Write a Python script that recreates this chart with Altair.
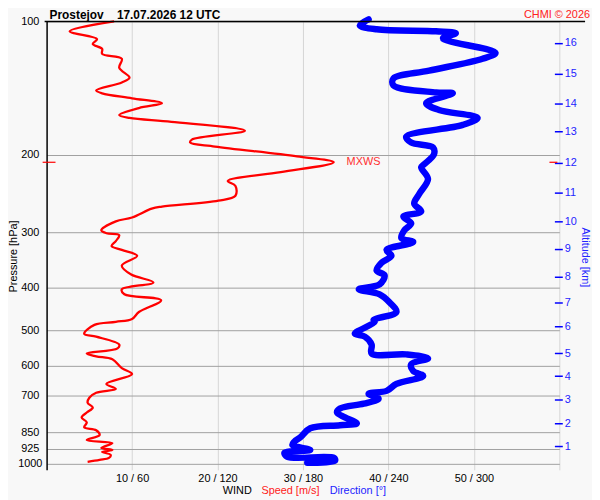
import altair as alt
import pandas as pd

# ---------------- data ----------------
# wind speed profile (pressure hPa, speed m/s)
red_p = [100.0, 105.3, 109.7, 112.5, 115.4, 118.4, 121.5, 127.3, 134.0, 137.4,
         143.2, 145.4, 149.2, 153.1, 157.0, 162.8, 165.3, 168.7, 176.7, 185.0,
         187.9, 191.8, 201.9, 208.2, 219.2, 229.5, 235.5, 247.9, 254.3, 262.2,
         265.0, 277.5, 283.2, 296.6, 301.2, 304.3, 313.8, 322.0, 328.6, 338.9,
         356.7, 373.6, 389.2, 403.4, 413.9, 426.9, 454.0, 470.5, 477.9, 485.3,
         508.2, 516.1, 537.7, 548.8, 563.1, 571.8, 580.7, 608.1, 627.1, 660.1,
         677.2, 691.3, 709.2, 727.6, 746.6, 765.9, 785.8, 806.2, 827.2, 840.0,
         861.8, 884.2, 898.0, 921.0, 931.0, 940.0, 955.0, 970.0, 980.0, 990.0]
red_s = [7.9, 2.7, 5.9, 5.4, 6.5, 6.5, 8.8, 8.5, 9.7, 8.8,
         5.8, 6.5, 10.0, 13.5, 10.8, 8.5, 9.7, 14.6, 23.2, 17.0,
         16.8, 19.7, 29.3, 33.6, 27.4, 21.2, 22.1, 22.1, 20.1, 13.5,
         12.3, 10.0, 8.1, 6.4, 7.0, 8.5, 8.1, 7.6, 8.8, 10.6,
         8.8, 9.9, 12.5, 8.8, 9.1, 13.4, 10.8, 10.0, 8.1, 5.6,
         4.4, 5.8, 8.5, 8.3, 4.7, 5.8, 7.7, 8.8, 10.0, 7.0,
         8.1, 5.8, 5.0, 4.8, 5.4, 4.7, 4.1, 4.7, 4.4, 5.8,
         6.2, 4.7, 7.7, 6.4, 7.7, 6.5, 7.5, 7.3, 6.2, 4.8]

# wind direction profile (pressure hPa, direction deg)
blue_p = [99.0, 102.1, 104.2, 105.3, 106.3, 109.1, 110.8, 117.8, 121.5, 129.2,
          134.6, 139.5, 144.7, 145.4, 153.1, 158.6, 165.3, 171.4, 182.2, 187.9,
          192.8, 199.8, 210.4, 213.6, 227.2, 245.6, 258.2, 268.9, 276.1, 286.1,
          296.6, 309.0, 315.4, 328.6, 338.9, 351.2, 365.7, 375.1, 393.2, 403.4,
          413.9, 431.3, 454.0, 473.0, 477.9, 508.2, 516.1, 537.7, 563.1, 566.0,
          577.7, 595.6, 617.2, 633.1, 660.1, 684.3, 694.9, 713.0, 731.3, 750.4,
          765.9, 785.8, 810.4, 818.7, 831.5, 871.0, 891.0, 907.1, 930.6, 944.8,
          964.8, 969.7, 984.7, 995.0]
blue_d = [226.1, 219.9, 231.7, 273.4, 287.3, 278.3, 282.5, 315.2, 306.1, 268.6,
          243.5, 243.5, 273.4, 285.2, 266.5, 275.5, 302.6, 292.2, 252.5, 256.0,
          271.3, 272.0, 265.1, 263.0, 267.8, 261.6, 258.1, 263.0, 250.5, 256.0,
          251.2, 249.1, 257.4, 238.7, 242.1, 235.2, 231.7, 237.3, 233.8, 219.2,
          233.8, 240.7, 245.6, 229.6, 230.3, 216.4, 223.4, 228.2, 228.2, 252.5,
          267.8, 256.0, 257.4, 264.4, 245.6, 238.7, 226.1, 233.1, 222.7, 206.0,
          203.9, 209.5, 217.8, 206.0, 185.1, 178.2, 174.0, 172.6, 185.1, 167.0,
          169.1, 201.8, 202.5, 183.0]

# axes
p_ticks = [100, 200, 300, 400, 500, 600, 700, 850, 925, 1000]
speed_ticks = [10, 20, 30, 40, 50, 60]
alt_km = [1, 2, 3, 4, 5, 6, 7, 8, 9, 10, 11, 12, 13, 14, 15, 16]
alt_p = [912.0, 810.0, 717.0, 634.0, 563.0, 490.0, 431.0, 377.0, 327.0, 283.0,
         244.0, 209.0, 177.6, 153.0, 131.2, 111.9]

# max wind
mxws_p = [208.2]
mxws_s = [33.6]

station = "Prostejov"
stamp = "17.07.2026 12 UTC"
credit = "CHMI © 2026"

# ---------------- chart ----------------
FONT = "Liberation Sans"
W, H = 518, 453
BLUE = "#0000ff"
BLUE_T = "#2424ff"
RED = "#ff0000"

red_df = pd.DataFrame({"p": red_p, "s": red_s})
blue_df = pd.DataFrame({"p": blue_p, "d": blue_d})
alt_df = pd.DataFrame({"p": alt_p, "km": alt_km})
mx_df = pd.DataFrame({"p": mxws_p, "s": mxws_s})
one = pd.DataFrame({"a": [0]})


def yscale():
    return alt.Scale(type="log", domain=[100, 1032], reverse=True, nice=False)


def sscale():
    return alt.Scale(domain=[0, 60], nice=False, zero=False)


red = alt.Chart(red_df).mark_line(
    color=RED, strokeWidth=2.3, interpolate="catmull-rom"
).encode(
    x=alt.X("s:Q", scale=sscale(), axis=alt.Axis(
        values=speed_ticks,
        labelExpr="datum.value < 60 ? datum.value + ' / ' + datum.value * 6 : ''",
        grid=True, gridColor="#d6d6d6", gridWidth=1,
        ticks=False, tickSize=0, domain=False, labelPadding=3,
        labelFontSize=11, labelColor="#000000", labelFont=FONT, title=None)),
    y=alt.Y("p:Q", scale=yscale(), axis=alt.Axis(
        orient="left", values=p_ticks, format="d",
        grid=True, gridColor="#a0a0a0", gridWidth=1,
        ticks=False, tickSize=0, domain=True, domainColor="#000000", domainWidth=1.5,
        labelAlign="center", labelBaseline="middle", labelPadding=17,
        labelFontSize=11, labelColor="#000000", labelFont=FONT,
        title="Pressure [hPa]", titleFont=FONT, titleFontSize=11,
        titleFontWeight="normal", titleColor="#000000",
        titleAngle=270, titleAlign="center", titleBaseline="middle",
        titleX=-33, titleY=237)),
    order=alt.Order("p:Q"),
)

blue = alt.Chart(blue_df).mark_line(
    color=BLUE, strokeWidth=6.5, strokeCap="round", strokeJoin="round",
    interpolate="catmull-rom"
).encode(
    x=alt.X("d:Q", scale=alt.Scale(domain=[0, 360], nice=False, zero=False), axis=None),
    y=alt.Y("p:Q", scale=yscale(), axis=None),
    order=alt.Order("p:Q"),
)

label_expr = f"{alt_km}[indexof({alt_p}, datum.value)]"
altitude = alt.Chart(alt_df).mark_point(opacity=0).encode(
    y=alt.Y("p:Q", scale=yscale(), axis=alt.Axis(
        orient="right", values=alt_p, labelExpr=label_expr,
        offset=-5, ticks=True, tickSize=8, tickColor=BLUE, tickWidth=1.5,
        domain=False, grid=False,
        labelColor=BLUE_T, labelPadding=2, labelFontSize=11, labelFont=FONT,
        labelBaseline="middle",
        title="Altitude [km]", titleFont=FONT, titleFontSize=11,
        titleFontWeight="normal", titleColor=BLUE_T,
        titleAngle=90, titleAlign="center", titleBaseline="middle",
        titleX=30, titleY=238)),
)

mx_left = alt.Chart(mx_df).mark_rule(color=RED, strokeWidth=1.2).encode(
    x=alt.value(-4), x2=alt.value(9),
    y=alt.Y("p:Q", scale=yscale(), axis=None),
)
mx_right = alt.Chart(mx_df).mark_rule(color=RED, strokeWidth=1.2).encode(
    x=alt.value(508), x2=alt.value(516),
    y=alt.Y("p:Q", scale=yscale(), axis=None),
)
mx_text = alt.Chart(mx_df).mark_text(
    text="MXWS", color="#ff3030", dx=13, align="left", baseline="middle",
    fontSize=11, font=FONT,
).encode(
    x=alt.X("s:Q", scale=sscale(), axis=None),
    y=alt.Y("p:Q", scale=yscale(), axis=None),
)

top_rule = alt.Chart(one).mark_rule(color="#000000", strokeWidth=1.5).encode(
    x=alt.value(-2), x2=alt.value(544), y=alt.value(0),
)

t_station = alt.Chart(one).mark_text(
    text=station, fontWeight="bold", fontSize=12, font=FONT, align="left",
    baseline="alphabetic", color="#000000",
).encode(x=alt.value(3), y=alt.value(-2))
t_stamp = alt.Chart(one).mark_text(
    text=stamp, fontWeight="bold", fontSize=12, font=FONT, align="left",
    baseline="alphabetic", color="#000000",
).encode(x=alt.value(71), y=alt.value(-2))
t_credit = alt.Chart(one).mark_text(
    text=credit, fontSize=11, font=FONT, align="right",
    baseline="alphabetic", color="#ff2020",
).encode(x=alt.value(549), y=alt.value(-3))

t_wind = alt.Chart(one).mark_text(
    text="WIND", fontSize=11, font=FONT, align="left", baseline="middle",
    color="#000000",
).encode(x=alt.value(178), y=alt.value(474))
t_speed = alt.Chart(one).mark_text(
    text="Speed [m/s]", fontSize=11, font=FONT, align="left", baseline="middle",
    color="#ff2020",
).encode(x=alt.value(217), y=alt.value(474))
t_dir = alt.Chart(one).mark_text(
    text="Direction [°]", fontSize=11, font=FONT, align="left", baseline="middle",
    color=BLUE_T,
).encode(x=alt.value(286), y=alt.value(474))

chart = alt.layer(
    blue, red, altitude, mx_left, mx_right, mx_text, top_rule,
    t_station, t_stamp, t_credit, t_wind, t_speed, t_dir,
).resolve_scale(
    x="independent"
).resolve_axis(
    y="independent", x="independent"
).properties(
    width=W, height=H,
    autosize=alt.AutoSizeParams(type="none"),
    padding={"left": 39, "top": 11, "right": 33, "bottom": 28},
    background="#f8f8f8",
).configure_view(
    strokeWidth=0
)

chart.save("out.html", embed_options={"renderer": "svg", "actions": False})
